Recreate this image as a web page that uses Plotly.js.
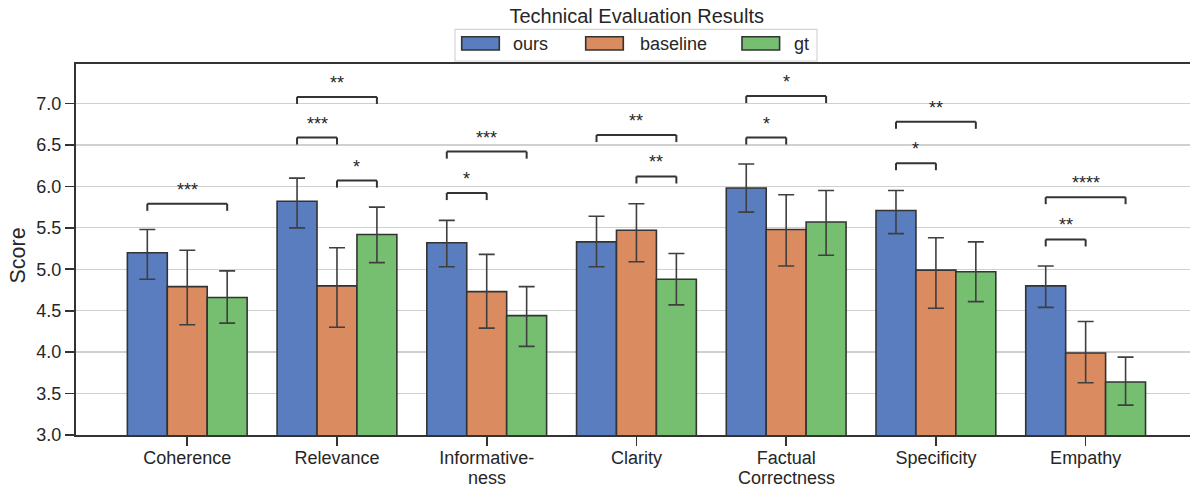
<!DOCTYPE html>
<html>
<head>
<meta charset="utf-8">
<script src="https://cdn.plot.ly/plotly-3.0.1.min.js"></script>
<style>html,body{margin:0;padding:0;background:#fff;}#chart{width:1190px;height:487px;}</style>
</head>
<body>
<div id="chart"></div>
<script>
// ---- data ----
const categories = ["Coherence", "Relevance", "Informative-<br>ness", "Clarity", "Factual<br>Correctness", "Specificity", "Empathy"];
const seriesNames = ["ours", "baseline", "gt"];

const oursMean = [5.20, 5.82, 5.32, 5.33, 5.98, 5.71, 4.80];
const oursLow  = [4.88, 5.50, 5.03, 5.03, 5.69, 5.43, 4.54];
const oursHigh = [5.48, 6.10, 5.59, 5.64, 6.27, 5.95, 5.04];

const baseMean = [4.79, 4.80, 4.73, 5.47, 5.48, 4.99, 3.99];
const baseLow  = [4.33, 4.30, 4.29, 5.09, 5.04, 4.53, 3.63];
const baseHigh = [5.23, 5.26, 5.18, 5.79, 5.90, 5.38, 4.37];

const gtMean = [4.66, 5.42, 4.44, 4.88, 5.57, 4.97, 3.64];
const gtLow  = [4.35, 5.08, 4.07, 4.57, 5.17, 4.61, 3.36];
const gtHigh = [4.98, 5.75, 4.79, 5.19, 5.95, 5.33, 3.94];

// significance brackets: category index, from series, to series, level, label
const sigGroup = [0, 1, 1, 1, 2, 2, 3, 3, 4, 4, 5, 5, 6, 6];
const sigFrom  = [0, 0, 1, 0, 0, 0, 0, 1, 0, 0, 0, 0, 0, 0];
const sigTo    = [2, 1, 2, 2, 1, 2, 2, 2, 1, 2, 1, 2, 1, 2];
const sigLevel = [5.79, 6.59, 6.07, 7.08, 5.92, 6.42, 6.62, 6.12, 6.59, 7.09, 6.28, 6.78, 5.36, 5.87];
const sigLabel = ["***", "***", "*", "**", "*", "***", "**", "**", "*", "*", "*", "**", "**", "****"];

const yTicks = [3.0, 3.5, 4.0, 4.5, 5.0, 5.5, 6.0, 6.5, 7.0];
const yLabel = "Score";
const chartTitle = "Technical Evaluation Results";

// ---- style ----
const colors = ["#597DBF", "#DA8B5F", "#76BF71"];
const edge = "#333333";
const txt = "#262626";
const FONT = "Liberation Sans, Arial, Helvetica, sans-serif";

const means = [oursMean, baseMean, gtMean];
const lows = [oursLow, baseLow, gtLow];
const highs = [oursHigh, baseHigh, gtHigh];

const traces = seriesNames.map((name, s) => ({
  type: "bar",
  name: name,
  x: categories,
  y: means[s],
  marker: {color: colors[s], line: {color: edge, width: 1.6}},
  error_y: {
    type: "data", symmetric: false,
    array: means[s].map((m, i) => highs[s][i] - m),
    arrayminus: means[s].map((m, i) => m - lows[s][i]),
    color: "#3f3f3f", thickness: 1.6, width: 8
  },
  showlegend: false,
  hoverinfo: "skip"
}));

const nSeries = seriesNames.length;
const groupWidth = 0.8;
const barW = groupWidth / nSeries;
const offset = s => -groupWidth / 2 + barW * (s + 0.5);

const W = 1190, H = 487, mL = 76, mR = 0, mT = 64, mB = 52;
const pw = W - mL - mR, ph = H - mT - mB;
const px = v => (v - mL) / pw;
const py = v => (H - mB - v) / ph;

const shapes = [];
const annotations = [];
const legH = 0.085;
const lineStyle = {color: edge, width: 2};
for (let k = 0; k < sigGroup.length; k++) {
  const x0 = sigGroup[k] + offset(sigFrom[k]);
  const x1 = sigGroup[k] + offset(sigTo[k]);
  const y = sigLevel[k];
  shapes.push({type: "line", xref: "x", yref: "y", x0: x0, x1: x1, y0: y, y1: y, line: lineStyle});
  shapes.push({type: "line", xref: "x", yref: "y", x0: x0, x1: x0, y0: y, y1: y - legH, line: lineStyle});
  shapes.push({type: "line", xref: "x", yref: "y", x0: x1, x1: x1, y0: y, y1: y - legH, line: lineStyle});
  annotations.push({
    xref: "x", yref: "y", x: (x0 + x1) / 2, y: y, text: sigLabel[k],
    showarrow: false, yanchor: "middle", xanchor: "center", yshift: 14,
    font: {family: FONT, size: 18, color: txt}
  });
}

// tick labels: first line on the axis, second line (tighter spacing) below it
const tickText = categories.map(c => c.split("<br>")[0]);
categories.forEach((c, i) => {
  const parts = c.split("<br>");
  if (parts.length > 1) {
    annotations.push({xref: "x", yref: "paper", x: i, y: py(478), text: parts.slice(1).join(" "),
      showarrow: false, xanchor: "center", yanchor: "middle",
      font: {family: FONT, size: 18, color: txt}});
  }
});

// y axis label
annotations.push({xref: "paper", yref: "paper", x: px(17.5), y: py(255), text: yLabel, textangle: -90,
  showarrow: false, xanchor: "center", yanchor: "middle", font: {family: FONT, size: 21.5, color: txt}});

// custom legend
shapes.push({type: "rect", xref: "paper", yref: "paper", x0: px(455), x1: px(817), y0: py(61), y1: py(29.3),
  line: {color: "#d4d4d4", width: 1.2}, fillcolor: "#ffffff"});
const swX = [461.7, 585.7, 742];
const lblX = [511, 637.7, 791.7];
seriesNames.forEach((name, s) => {
  shapes.push({type: "rect", xref: "paper", yref: "paper", x0: px(swX[s]), x1: px(swX[s] + 37.6),
    y0: py(50), y1: py(36.7), line: {color: edge, width: 1.6}, fillcolor: colors[s]});
  annotations.push({xref: "paper", yref: "paper", x: px(lblX[s]), y: py(44), text: name, showarrow: false,
    xanchor: "left", yanchor: "middle", font: {family: FONT, size: 18, color: txt}});
});

const layout = {
  width: W, height: H,
  margin: {l: mL, r: mR, t: mT, b: mB, pad: 0},
  paper_bgcolor: "#ffffff", plot_bgcolor: "#ffffff",
  font: {family: FONT, size: 18, color: txt},
  title: {text: chartTitle, font: {family: FONT, size: 20, color: txt},
    x: 636.7 / W, xref: "container", xanchor: "center", y: 1 - 15.7 / H, yref: "container", yanchor: "middle"},
  barmode: "group", bargap: 0.2, bargroupgap: 0,
  xaxis: {
    type: "category", range: [-0.743, 6.697], fixedrange: true,
    tickmode: "array", tickvals: categories, ticktext: tickText,
    showline: true, linecolor: edge, linewidth: 2, mirror: true,
    ticks: "outside", ticklen: 9, tickwidth: 1.6, tickcolor: edge,
    ticklabelstandoff: -4,
    tickfont: {family: FONT, size: 18, color: txt},
    showgrid: false, zeroline: false
  },
  yaxis: {
    range: [3, 7.477], fixedrange: true,
    tickvals: yTicks, ticktext: yTicks.map(v => v.toFixed(1)),
    showline: true, linecolor: edge, linewidth: 2,
    ticks: "outside", ticklen: 9, tickwidth: 1.6, tickcolor: edge,
    tickfont: {family: FONT, size: 18, color: txt},
    showgrid: true, gridcolor: "#d0d0d0", gridwidth: 1.3, zeroline: false
  },
  shapes: shapes,
  annotations: annotations,
  showlegend: false
};

Plotly.newPlot("chart", traces, layout, {displayModeBar: false, staticPlot: true});
</script>
</body>
</html>
